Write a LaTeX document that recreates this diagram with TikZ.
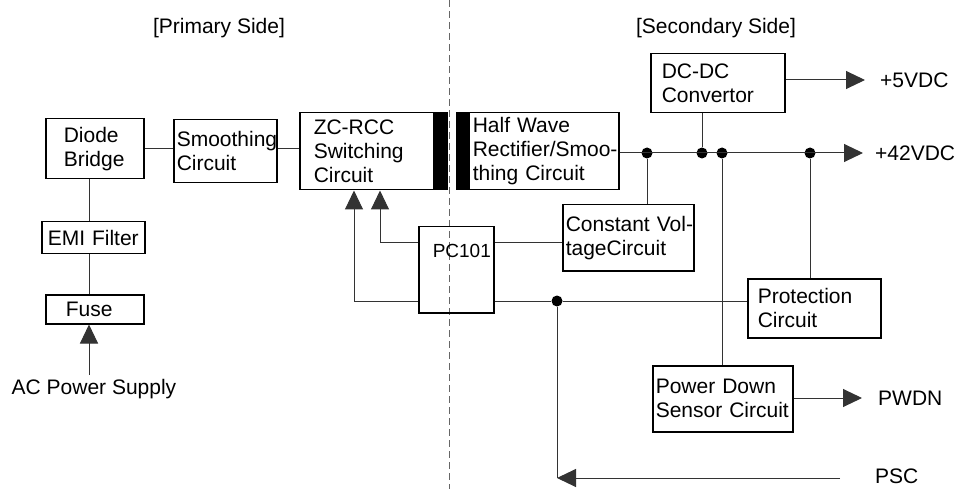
\documentclass[tikz,border=0pt]{standalone}
\usepackage{fontspec}
\setmainfont{Liberation Sans}
\usetikzlibrary{arrows.meta, positioning}
\tikzset{
  blk/.style={draw,line width=1.5pt,align=left,anchor=north west,inner ysep=0pt,font=\fontsize{21pt}{24pt}\selectfont},
  lbl/.style={inner sep=2pt,font=\fontsize{21pt}{24pt}\selectfont},
  wire/.style={draw=black!80,line width=1pt},
  arr/.style={wire,-{Triangle[length=19pt,width=18pt]}},
  dot/.style={circle,fill=black,inner sep=0pt,minimum size=11pt},
  core/.style={fill=black}
}

\begin{document}
\begin{tikzpicture}[x=1pt,y=-1pt]
\useasboundingbox (0,0) rectangle (956,489);
% isolation barrier
\draw[black!60,line width=1pt,dash pattern=on 7pt off 4pt] (449,0) -- (449,489);
\node[lbl] (pri) at (219,28) {[Primary Side]};
\node[lbl] (sec) at (716,28) {[Secondary Side]};
% primary side
\node[blk, minimum width=98pt, minimum height=60pt, text width=62pt, inner xsep=18pt] (db) at (45,118) {Diode\\Bridge};
\node[blk, minimum width=103pt, minimum height=63pt, text width=97pt, inner xsep=3pt] (sm) at (173,119) {\mbox{Smoothing}\\Circuit};
\node[blk, minimum width=103pt, minimum height=32pt, text width=91pt, inner xsep=6pt] (emi) at (41,221) {EMI Filter};
\node[blk, minimum width=98pt, minimum height=29pt, text width=58pt, inner xsep=20pt] (fuse) at (45,294) {Fuse};
\node[lbl] (acs) at (94,389) {AC Power Supply};
\node[blk, minimum width=134pt, minimum height=77pt, text width=106pt, inner xsep=14pt] (zc) at (299,112) {ZC-RCC\\Switching\\Circuit};
\node[blk, minimum width=75pt, text width=47pt, inner xsep=14pt, text height=31pt, text depth=55pt, font=\fontsize{19pt}{22pt}\selectfont] (pc) at (418,226) {\mbox{PC101}};
% secondary side
\node[blk, minimum width=150pt, minimum height=77pt, text width=142pt, inner xsep=4pt] (hw) at (468,112) {Half Wave\\\mbox{Rectifier/Smoo-}\\thing Circuit};
\node[blk, minimum width=134pt, minimum height=59pt, text width=112pt, inner xsep=11pt] (dc) at (650,53) {DC-DC\\Convertor};
\node[blk, minimum width=131pt, minimum height=66pt, text width=125pt, inner xsep=3pt] (cv) at (562,204) {\mbox{Constant Vol-}\\tageCircuit};
\node[blk, minimum width=133pt, minimum height=59pt, text width=113pt, inner xsep=10pt] (pr) at (747,278) {Protection\\Circuit};
\node[blk, minimum width=140pt, minimum height=66pt, text width=134pt, inner xsep=3pt] (pd) at (652,365) {Power Down\\Sensor Circuit};
% transformer cores
\fill[core] (zc.north east) rectangle ([xshift=13pt]zc.south east);
\fill[core] ([xshift=-12pt]hw.north west) rectangle (hw.south west);
% outputs
\node[lbl, anchor=west] (v5) at (878,80) {+5VDC};
\node[lbl, anchor=west] (v42) at (873,153) {+42VDC};
\node[lbl, anchor=west] (pwdn) at (876,398) {PWDN};
\node[lbl, anchor=west] (psc) at (873,476) {PSC};
% junctions
\node[dot] (j1) at (647,153) {};
\node[dot] (j2) at (702,153) {};
\node[dot] (j3) at (722,153) {};
\node[dot] (j4) at (810,153) {};
\node[dot] (j5) at (557,301) {};
\coordinate (feed) at (89,375);
\coordinate (fb1) at (380,243);
\coordinate (fb2) at (354,301);
\coordinate (pin) at (840,478);
% primary wiring
\draw[arr] (feed) -- (feed |- fuse.south);
\draw[wire] (feed |- fuse.north) -- (feed |- emi.south);
\draw[wire] (feed |- emi.north) -- (feed |- db.south);
\draw[wire] (db.east) -- (db.east -| sm.west);
\draw[wire] (sm.east |- db.east) -- (db.east -| zc.west);
\draw[arr] (pc.west |- fb1) -- (fb1) -- (fb1 |- zc.south);
\draw[arr] (pc.west |- fb2) -- (fb2) -- (fb2 |- zc.south);
% secondary wiring
\draw[arr] (hw.east |- j1) -- ([xshift=-10pt]v42.west);
\draw[arr] (dc.east |- v5) -- ([xshift=-13pt]v5.west);
\draw[wire] (j2 |- dc.south) -- (j2);
\draw[wire] (j1) -- (j1 |- cv.north);
\draw[wire] (j3) -- (j3 |- pd.north);
\draw[wire] (j4) -- (j4 |- pr.north);
\draw[wire] (pc.east |- fb1) -- (fb1 -| cv.west);
\draw[wire] (pc.east |- fb2) -- (j5) -- (j5 -| pr.west);
\draw[arr] (pd.east |- pwdn) -- ([xshift=-14pt]pwdn.west);
\draw[arr] (pin) -- (pin -| j5);
\draw[wire] (j5) -- (j5 |- pin);
\end{tikzpicture}
\end{document}
